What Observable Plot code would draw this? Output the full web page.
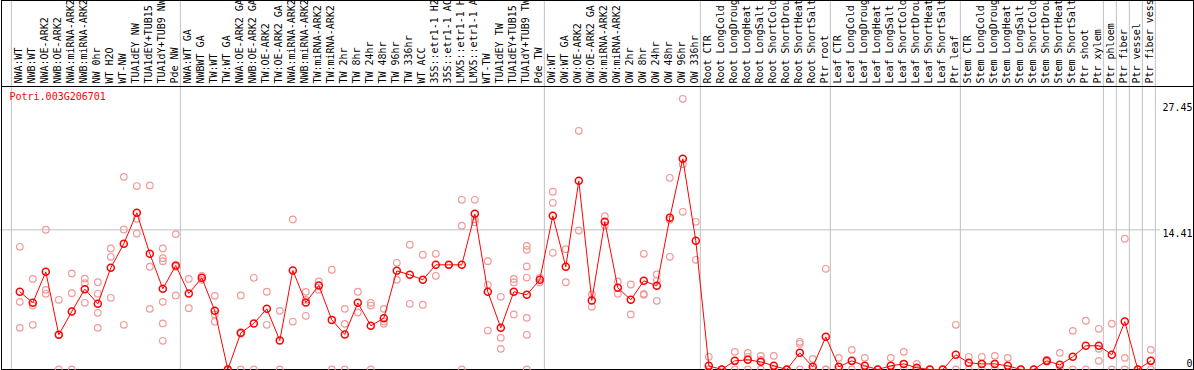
<!DOCTYPE html>
<html><head><meta charset="utf-8">
<script src="https://cdn.jsdelivr.net/npm/d3@7"></script>
<script src="https://cdn.jsdelivr.net/npm/@observablehq/plot@0.6"></script>
<style>
html,body{margin:0;padding:0;background:#fff;}
</style>
</head><body><div id="chart"></div>
<script>
const geneId = "Potri.003G206701";

const samples = [
  "NWA:WT","NWB:WT","NWA:OE-ARK2","NWB:OE-ARK2","NWA:miRNA-ARK2","NWB:miRNA-ARK2","NW 0hr","WT H2O","WT-NW",
  "TUA1dEY NW","TUA1dEY+TUB15","TUA1dY+TUB9 NW","Pde NW",
  "NWA:WT GA","NWBWT GA","TW:WT","TW:WT GA","NWA:OE-ARK2 GA","NWB:OE-ARK2 GA","TW:OE-ARK2","TW:OE-ARK2 GA",
  "NWA:miRNA-ARK2","NWB:miRNA-ARK2","TW:miRNA-ARK2","TW:miRNA-ARK2","TW 2hr","TW 8hr","TW 24hr","TW 48hr","TW 96hr","TW 336hr",
  "WT ACC","35S::etr1-1 H2","35S::etr1-1 AC","LMX5::etr1-1 H","LMX5::etr1-1 A","WT-TW","TUA1dEY TW","TUA1dEY+TUB15","TUA1dY+TUB9 TW","Pde TW",
  "OW:WT","OW:WT GA","OW:OE-ARK2","OW:OE-ARK2 GA","OW:miRNA-ARK2","OW:miRNA-ARK2","OW 2hr","OW 8hr","OW 24hr","OW 48hr","OW 96hr","OW 336hr",
  "Root CTR","Root LongCold","Root LongDroug","Root LongHeat","Root LongSalt","Root ShortCold","Root ShortDrou","Root ShortHeat","Root ShortSalt","Ptr root",
  "Leaf CTR","Leaf LongCold","Leaf LongDroug","Leaf LongHeat","Leaf LongSalt","Leaf ShortCold","Leaf ShortDrou","Leaf ShortHeat","Leaf ShortSalt","Ptr leaf",
  "Stem CTR","Stem LongCold","Stem LongDroug","Stem LongHeat","Stem LongSalt","Stem ShortCold","Stem ShortDrou","Stem ShortHeat","Stem ShortSalt","Ptr shoot","Ptr xylem",
  "Ptr phloem","Ptr fiber","Ptr vessel","Ptr fiber vess"
];

const means = [
  8.02, 6.88, 10.08, 3.58, 5.99, 8.29, 6.78, 10.49, 12.97, 16.17, 11.94, 8.33, 10.73,
  7.84, 9.46, 6.05, 0, 3.78, 4.75, 6.26, 2.99, 10.22, 6.91, 8.67, 5.12, 3.61, 6.88, 4.51, 5.30, 10.18, 9.77,
  9.26, 10.8, 10.8, 10.8, 16.06, 8.02, 4.30, 8.02, 7.71, 9.26,
  15.86, 10.6, 19.47, 7.12, 15.24, 8.43, 7.19, 9.15, 8.63, 15.65, 21.74, 13.28,
  0.38, 0, 0.89, 1.0, 0.79, 0.38, 0, 1.72, 0.28, 3.37,
  0.28, 0.89, 0.38, 0, 0.38, 0.58, 0.17, 0, 0, 1.52,
  0.69, 0.58, 0.58, 0.38, 0, 0, 0.89, 0.48, 1.31, 2.45, 2.45,
  1.52, 4.95, 0, 0.89
];

const replicates = [
  [12.66, 6.98, 4.30], [9.35, 6.60, 4.61], [14.42, 8.22, 7.81], [7.19, 3.58, 0], [9.91, 7.88, 0],
  [9.38, 8.91, 6.88], [9.0, 7.81, 5.85, 4.30], [12.49, 11.63, 7.4], [19.88, 14.45, 4.61], [18.93, 15.55, 14.03],
  [18.99, 10.6, 6.26], [12.49, 11.49, 11.18, 6.98, 4.75, 2.96], [13.97, 10.6, 7.64],
  [9.35, 6.33], [9.67, 9.25], [7.60, 5.68, 4.93], [0, 0], [7.64, 3.7, 0], [9.46, 0], [8.02, 4.61], [6.05, 0],
  [15.48, 4.95], [8.01, 7.18, 5.54], [9.08, 8.22], [10.29, 0], [6.26, 4.71, 0], [8.02, 5.88], [6.88, 6.6, 0],
  [6.26, 4.95, 4.71], [11.01, 9.26], [12.87, 6.78],
  [11.84, 6.68], [11.94, 9.67], [10.8], [17.51, 14.83, 0], [17.51, 15.51, 15.2], [11.18, 8.74, 4.02],
  [7.50, 3.27, 2.13], [9.35, 8.98, 5.68], [12.76, 12.35, 10.63, 9.49, 5.33, 3.58, 0], [9.46, 9.0],
  [18.34, 17.2, 12.04], [12.42, 9.0], [24.63, 14.34], [7.74, 6.47], [15.82, 14.86], [9.08, 7.81], [8.77, 5.68],
  [11.94, 7.81, 7.7], [9.80, 9.18, 7.09], [19.78, 15.45, 11.63], [27.93, 21.19, 16.27], [15.24, 11.32],
  [1.31, 0, 0], [0, 0], [1.82, 0], [1.72, 1.31, 0], [1.41, 1.0, 0], [1.41, 0, 0], [0, 0], [2.86, 2.65, 0], [1.1, 0], [10.39, 0, 0],
  [1.2, 0], [2.03, 0], [1.2, 0], [0], [1.2, 0], [1.82, 0], [0.58, 0], [0], [0], [4.61, 0],
  [1.31, 0], [1.31, 0], [1.41, 0], [1.2, 0], [0], [0], [1.0, 0.79], [1.72, 0], [3.99, 0], [5.03, 0], [4.2, 2.14, 0.89],
  [4.72, 0], [13.49, 1.2, 0], [0], [2.03, 0]
];

const groupStarts = [0, 13, 41, 53, 63, 73, 84, 85, 86, 87, 88];
const yTicks = [27.45, 14.41, 0];
const yGridLines = [14.41];
const yMax = 29.2;

const reps = replicates.flatMap((vals, i) => vals.map(v => ({i, v})));
const meanRows = means.map((v, i) => ({i, v}));
const font = "'DejaVu Sans Mono', monospace";

const chart = Plot.plot({
  width: 1194, height: 370,
  marginTop: 0, marginBottom: 1, marginLeft: 1, marginRight: 1,
  x: {type: "linear", domain: [0, samples.length - 1], range: [19.3, 1150.3], axis: null},
  y: {domain: [0, yMax], range: [369, 86], axis: null},
  style: {fontFamily: font, background: "white", overflow: "hidden"},
  marks: [
    Plot.ruleX(groupStarts, {x: d => d - 0.65, stroke: "#c0c0c0", strokeWidth: 1}),
    Plot.ruleY(yGridLines, {y: d => d, x1: -1.5, x2: 87.75, stroke: "#c0c0c0", strokeWidth: 1}),
    Plot.ruleY([yMax], {stroke: "black", strokeWidth: 1}),
    Plot.frame({stroke: "black", strokeWidth: 1}),
    Plot.text(samples, {x: (d, i) => i, y: () => yMax, text: d => d, rotate: -90, textAnchor: "start",
      lineAnchor: "middle", dy: -3, dx: -1, fontSize: 10, fill: "black"}),
    Plot.text(yTicks.filter(d => d > 0), {y: d => d, text: d => String(d), frameAnchor: "right",
      textAnchor: "end", lineAnchor: "top", dx: -1, fontSize: 10, fill: "black"}),
    Plot.text(yTicks.filter(d => d === 0), {y: d => d, text: d => String(d), frameAnchor: "right",
      textAnchor: "end", lineAnchor: "bottom", dx: -1, dy: -3, fontSize: 10, fill: "black"}),
    Plot.text([geneId], {y: () => yMax, frameAnchor: "left", textAnchor: "start", lineAnchor: "top",
      dx: 8, dy: 6, fill: "red", fontSize: 10}),
    Plot.dot(reps, {x: "i", y: "v", r: 3.3, stroke: "#f09a9a", strokeWidth: 1.2, fill: "none"}),
    Plot.line(meanRows, {x: "i", y: "v", stroke: "red", strokeWidth: 1}),
    Plot.dot(meanRows, {x: "i", y: "v", r: 3.5, stroke: "red", strokeWidth: 1.5, fill: "none"})
  ]
});
document.getElementById("chart").appendChild(chart);
</script>
</body></html>
